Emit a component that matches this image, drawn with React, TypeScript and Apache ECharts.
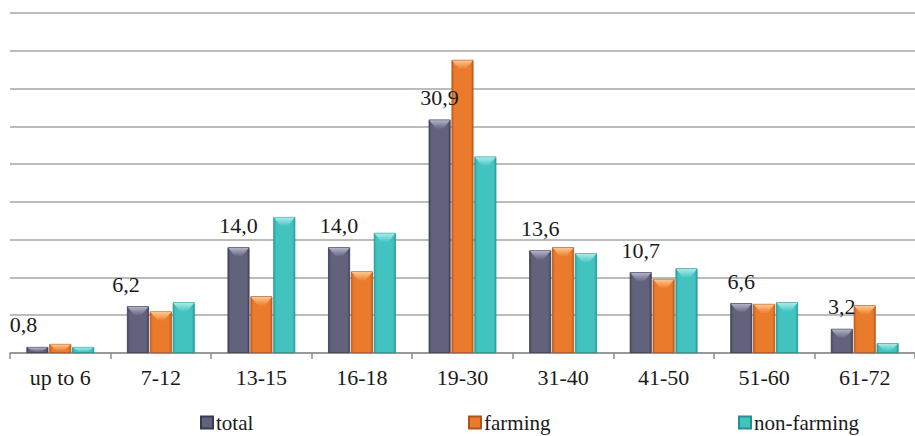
import React, { useEffect, useRef } from "react";
import * as echarts from "echarts";

const categories = ["up to 6", "7-12", "13-15", "16-18", "19-30", "31-40", "41-50", "51-60", "61-72"];
const totalValues = [0.8, 6.2, 14.0, 14.0, 30.9, 13.6, 10.7, 6.6, 3.2];
const farmingValues = [1.2, 5.5, 7.5, 10.8, 38.8, 14.0, 9.8, 6.5, 6.3];
const nonFarmingValues = [0.8, 6.7, 18.0, 15.9, 26.0, 13.2, 11.2, 6.7, 1.3];
// horizontal nudges for the total labels that sit beside their bars
const totalLabelShift = [-14, -12, 0, 0, 0, 0, 0, 0, 0];

const FONT = '"Times New Roman", "Liberation Serif", serif';
const BAR_W = 22;
const BAR_GAP_PCT = 4;

function barGradient(edge: string, mid: string) {
  return new echarts.graphic.LinearGradient(0, 0, 1, 0, [
    { offset: 0, color: edge },
    { offset: 0.12, color: mid },
    { offset: 0.88, color: mid },
    { offset: 1, color: edge },
  ]);
}

const seriesStyles = [
  { name: "total", edge: "#474760", mid: "#62627c", cap: "#b4b4cc", border: "#3a3a4e" },
  { name: "farming", edge: "#c8601c", mid: "#ea7b2c", cap: "#ffc890", border: "#b0521a" },
  { name: "non-farming", edge: "#29a6a3", mid: "#42c3c0", cap: "#a8ecea", border: "#23908d" },
];

export default function App() {
  const ref = useRef<HTMLDivElement>(null);

  useEffect(() => {
    document.body.style.margin = "0";
    if (!ref.current) return;
    const chart = echarts.init(ref.current, null, { renderer: "svg" });
    const values = [totalValues, farmingValues, nonFarmingValues];
    const legendLefts = [200, 468, 738];

    // one record per bar: [category index, value, series index], used for the bevelled caps
    const capData: number[][] = [];
    values.forEach((arr, s) => arr.forEach((v, c) => capData.push([c, v, s])));

    const step = BAR_W * (1 + BAR_GAP_PCT / 100);

    const renderCap = (params: any, api: any) => {
      const c = api.value(0);
      const v = api.value(1);
      const s = api.value(2);
      const top = api.coord([c, v]);
      const base = api.coord([c, 0]);
      const cx = top[0] + (s - 1) * step;
      const x0 = cx - BAR_W / 2 + 0.6;
      const x1 = cx + BAR_W / 2 - 0.6;
      const y0 = top[1] + 0.6;
      const h = Math.min(9, (base[1] - top[1]) * 0.75);
      const st = seriesStyles[s];
      return {
        type: "polygon",
        z2: 10,
        shape: { points: [[x0, y0], [x1, y0], [cx + 3, y0 + h], [cx - 3, y0 + h]] },
        style: {
          fill: new echarts.graphic.LinearGradient(0, 0, 0, 1, [
            { offset: 0, color: st.cap },
            { offset: 1, color: st.mid },
          ]),
        },
      };
    };

    chart.setOption({
      animation: false,
      backgroundColor: "#ffffff",
      textStyle: { fontFamily: FONT },
      grid: { left: 10, right: -9, top: 13, bottom: 83, containLabel: false },
      legend: seriesStyles.map((s, i) => ({
        data: [s.name],
        left: legendLefts[i],
        top: 412,
        padding: 0,
        itemWidth: 12,
        itemHeight: 12,
        itemGap: 4,
        icon: "rect",
        textStyle: { fontFamily: FONT, fontSize: 21, color: "#1a1a1a", padding: [0, 0, 0, -2] },
      })),
      xAxis: {
        type: "category",
        data: categories,
        axisLine: { lineStyle: { color: "#8c8c8c", width: 1.5 } },
        axisTick: { show: true, length: 6, lineStyle: { color: "#8c8c8c", width: 1.5 } },
        axisLabel: { fontFamily: FONT, fontSize: 22, color: "#1a1a1a", margin: 13 },
      },
      yAxis: {
        type: "value",
        min: 0,
        max: 45,
        interval: 5,
        axisLabel: { show: false },
        axisLine: { show: false },
        axisTick: { show: false },
        splitLine: { lineStyle: { color: "#a6a6a6", width: 1.5 } },
      },
      series: [
        ...seriesStyles.map((s, i) => ({
          name: s.name,
          type: "bar",
          barWidth: BAR_W,
          barGap: BAR_GAP_PCT + "%",
          data: values[i].map((v, j) =>
            i === 0
              ? {
                  value: v,
                  label: {
                    show: true,
                    position: "top",
                    distance: 11,
                    offset: [totalLabelShift[j], 0],
                    formatter: (p: any) => Number(p.value).toFixed(1).replace(".", ","),
                    fontFamily: FONT,
                    fontSize: 22,
                    color: "#1a1a1a",
                  },
                }
              : v
          ),
          itemStyle: {
            color: barGradient(s.edge, s.mid),
            borderColor: s.border,
            borderWidth: 0.8,
          },
        })),
        {
          name: "caps",
          type: "custom",
          renderItem: renderCap,
          data: capData,
          silent: true,
          z: 5,
          tooltip: { show: false },
        },
      ],
    });

    return () => chart.dispose();
  }, []);

  return <div ref={ref} style={{ width: 915, height: 436 }} />;
}
